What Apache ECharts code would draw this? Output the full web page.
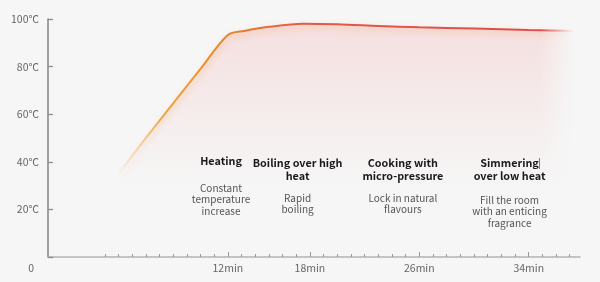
<!DOCTYPE html>
<html>
<head>
<meta charset="utf-8">
<script src="https://cdn.jsdelivr.net/npm/echarts@6/dist/echarts.min.js"></script>
<style>
html,body{margin:0;padding:0;background:#f6f6f6;}
#c{width:600px;height:282px;}
</style>
</head>
<body>
<div id="c"></div>
<script>
// ---- data ----
var tempData = [[4, 35], [6, 50], [8, 64.5], [10, 79], [12, 93.3], [13.2, 95], [15, 96.7], [17.5, 98], [20, 97.8], [23, 97.1], [26, 96.5], [30, 96], [34, 95.4], [37.6, 95]];
var yTicks = [0, 20, 40, 60, 80, 100];
var majorTicks = [12, 18, 26, 34];
var minorTicks = [3, 4, 5, 6, 7, 8, 9, 10, 11, 13, 14, 15, 16, 17, 19, 20, 21, 22, 23, 24, 25, 27, 28, 29, 30, 31, 32, 33, 35, 36, 37];
var phaseX = [11.5, 17.1, 24.8, 32.6];
var phaseTitles = ['Heating', 'Boiling over high\nheat', 'Cooking with\nmicro-pressure', 'Simmering\nover low heat'];
var phaseDescs = ['Constant\ntemperature\nincrease', 'Rapid\nboiling', 'Lock in natural\nflavours', 'Fill the room\nwith an enticing\nfragrance'];

// ---- layout / style ----
var titleTop = [154.5, 156.5, 156.5, 156.5];
var descTop = [182, 192, 192, 194];
var FONT = '"Noto Sans CJK SC", "Noto Sans", sans-serif';
var BG = '#f6f6f6';

var chart = echarts.init(document.getElementById('c'));
var xMin = -1.15, xMax = 37.75;

var option = {
  backgroundColor: BG,
  animation: false,
  grid: {left: 48, right: 20, top: 19, bottom: 25, containLabel: false},
  xAxis: [{
    type: 'value', min: xMin, max: xMax, position: 'bottom',
    splitLine: {show: false},
    axisLine: {show: true, onZero: false, lineStyle: {color: '#b4b4b4', width: 1.5}},
    axisTick: {show: true, inside: true, length: 3, customValues: minorTicks, lineStyle: {color: '#999', width: 1}},
    axisLabel: {show: false}
  }, {
    type: 'value', min: xMin, max: xMax, position: 'bottom',
    splitLine: {show: false},
    axisLine: {show: false, onZero: false},
    axisTick: {show: true, inside: true, length: 5, customValues: majorTicks, lineStyle: {color: '#999', width: 1}},
    axisLabel: {show: true, customValues: majorTicks, color: '#666', fontSize: 10.5, fontFamily: FONT, margin: 6,
      formatter: function (v) { return v + 'min'; }}
  }],
  yAxis: {
    type: 'value', min: 0, max: 100, interval: 20,
    splitLine: {show: false},
    axisLine: {show: true, onZero: false, lineStyle: {color: '#8c8c8c', width: 1.6}},
    axisTick: {show: true, inside: true, length: 5, lineStyle: {color: '#8c8c8c', width: 1.3}},
    axisLabel: {color: '#666', fontSize: 10.5, fontFamily: FONT, margin: 9,
      formatter: function (v) { return v === 0 ? '{z|0}' : v + '℃'; },
      rich: {z: {color: '#666', fontSize: 10.5, fontFamily: FONT, padding: [22, 5, 0, 0]}}
    }
  },
  series: [{
    type: 'line',
    data: tempData,
    smooth: 0.3,
    showSymbol: false,
    lineStyle: {
      width: 2,
      color: new echarts.graphic.LinearGradient(0, 0, 1, 0, [
        {offset: 0, color: 'rgba(240,180,80,0)'},
        {offset: 0.1, color: 'rgba(236,160,50,0.9)'},
        {offset: 0.22, color: '#e88a2a'},
        {offset: 0.4, color: '#e45a48'},
        {offset: 1, color: '#e04a4a'}
      ]),
      shadowColor: 'rgba(240,150,60,0.45)', shadowBlur: 6, shadowOffsetY: 3, shadowOffsetX: 1
    },
    areaStyle: {
      color: new echarts.graphic.LinearGradient(0, 0, 0, 1, [
        {offset: 0, color: 'rgba(240,110,110,0.24)'},
        {offset: 0.35, color: 'rgba(240,120,120,0.13)'},
        {offset: 0.72, color: 'rgba(240,140,140,0)'},
        {offset: 1, color: 'rgba(240,140,140,0)'}
      ])
    }
  }]
};
chart.setOption(option);

// annotations + right fade
var g = [];
g.push({
  type: 'rect', z: 100, silent: true,
  shape: {x: 540, y: 8, width: 45, height: 200},
  style: {fill: new echarts.graphic.LinearGradient(0, 0, 1, 0, [
    {offset: 0, color: 'rgba(246,246,246,0)'},
    {offset: 0.75, color: 'rgba(246,246,246,1)'},
    {offset: 1, color: 'rgba(246,246,246,1)'}
  ])}
});
for (var i = 0; i < phaseX.length; i++) {
  var px = chart.convertToPixel({xAxisIndex: 0}, phaseX[i]);
  g.push({
    type: 'text', z: 110, x: px, y: titleTop[i],
    style: {text: phaseTitles[i], fill: '#1a1a1a', font: 'bold 10.8px ' + FONT, align: 'center', verticalAlign: 'top', lineHeight: 13}
  });
  g.push({
    type: 'text', z: 110, x: px, y: descTop[i],
    style: {text: phaseDescs[i], fill: '#555', font: '10px ' + FONT, align: 'center', verticalAlign: 'top', lineHeight: 11.6}
  });
}
// text cursor mark after "Simmering"
var sx = chart.convertToPixel({xAxisIndex: 0}, phaseX[3]);
g.push({type: 'rect', z: 110, shape: {x: sx + 29.5, y: titleTop[3] + 1.5, width: 0.8, height: 11}, style: {fill: '#666'}});
chart.setOption({graphic: g});
</script>
</body>
</html>
